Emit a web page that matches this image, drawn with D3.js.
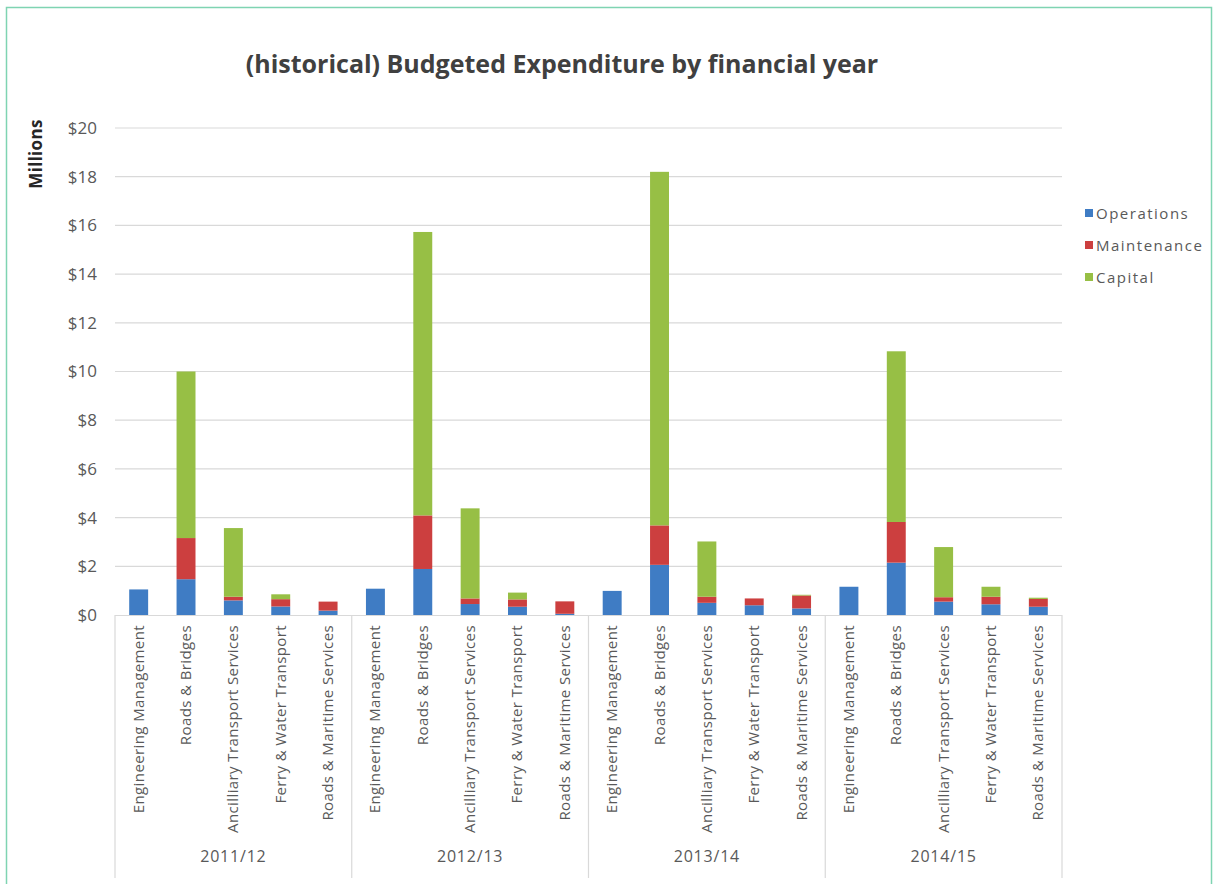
<!DOCTYPE html>
<html>
<head>
<meta charset="utf-8">
<script src="https://cdn.jsdelivr.net/npm/d3@7/dist/d3.min.js"></script>
<style>
  html, body { margin: 0; padding: 0; background: #fff; }
  svg { display: block; }
  text { font-family: "Open Sans", Lato, sans-serif; }
</style>
</head>
<body>
<svg id="chart" width="1214" height="884"></svg>
<script>
// Financial years and service categories
const years = ["2011/12", "2012/13", "2013/14", "2014/15"];
const services = [
  "Engineering Management",
  "Roads & Bridges",
  "Ancilliary Transport Services",
  "Ferry & Water Transport",
  "Roads & Maritime Services"
];
const seriesNames = ["Operations", "Maintenance", "Capital"];
const seriesColors = ["#3F7CC4", "#CC3F3F", "#97BF45"];

// Values in $ millions, one row per year, columns follow `services`
const operations = [
  [1.05, 1.47, 0.60, 0.35, 0.18],
  [1.08, 1.89, 0.45, 0.34, 0.05],
  [0.99, 2.06, 0.50, 0.40, 0.27],
  [1.16, 2.15, 0.55, 0.44, 0.34]
];
const maintenance = [
  [0.00, 1.69, 0.15, 0.30, 0.37],
  [0.00, 2.20, 0.23, 0.30, 0.51],
  [0.00, 1.62, 0.25, 0.28, 0.53],
  [0.00, 1.67, 0.18, 0.31, 0.32]
];
const capital = [
  [0.00, 6.84, 2.82, 0.20, 0.00],
  [0.00, 11.64, 3.70, 0.28, 0.00],
  [0.00, 14.52, 2.27, 0.00, 0.03],
  [0.00, 7.01, 2.06, 0.41, 0.05]
];
const yTicks = [0, 2, 4, 6, 8, 10, 12, 14, 16, 18, 20];

// Flatten into one row per (year, service)
const rows = [];
years.forEach((yr, i) => {
  services.forEach((svc, j) => {
    rows.push({
      key: yr + "|" + svc,
      year: yr,
      service: svc,
      Operations: operations[i][j],
      Maintenance: maintenance[i][j],
      Capital: capital[i][j]
    });
  });
});

const svg = d3.select("#chart");

// Outer frame
svg.append("rect")
  .attr("x", 6.5).attr("y", 7.5)
  .attr("width", 1205).attr("height", 890)
  .attr("fill", "#fff")
  .attr("stroke", "#7FD4B2").attr("stroke-width", 1.5);

const plot = { left: 115, right: 1062, top: 128, bottom: 615 };

const x = d3.scaleBand()
  .domain(rows.map(d => d.key))
  .range([plot.left, plot.right])
  .paddingInner(0.6)
  .paddingOuter(0.3);

const y = d3.scaleLinear()
  .domain([0, 20])
  .range([plot.bottom, plot.top]);

// Horizontal gridlines
svg.append("g")
  .selectAll("line")
  .data(yTicks.filter(t => t > 0))
  .join("line")
  .attr("x1", plot.left).attr("x2", plot.right)
  .attr("y1", d => y(d)).attr("y2", d => y(d))
  .attr("stroke", "#D9D9D9").attr("stroke-width", 1.2);

// Y axis labels
const yAxis = d3.axisLeft(y)
  .tickValues(yTicks)
  .tickFormat(d => "$" + d)
  .tickSize(0)
  .tickPadding(18);
const yg = svg.append("g")
  .attr("transform", `translate(${plot.left},0)`)
  .call(yAxis);
yg.select(".domain").remove();
yg.selectAll("text")
  .attr("fill", "#595959")
  .style("font-size", "17px");

// Y axis title
svg.append("text")
  .attr("transform", `translate(42,154) rotate(-90)`)
  .attr("text-anchor", "middle")
  .attr("fill", "#262626")
  .style("font-size", "17px")
  .style("font-weight", "bold")
  .style("letter-spacing", "0.3px")
  .text("Millions");

// Stacked bars
const stacked = d3.stack().keys(seriesNames)(rows);

svg.append("g")
  .selectAll("g")
  .data(stacked)
  .join("g")
  .attr("fill", (d, i) => seriesColors[i])
  .selectAll("rect")
  .data(d => d)
  .join("rect")
  .attr("x", d => x(d.data.key))
  .attr("width", x.bandwidth())
  .attr("y", d => y(d[1]))
  .attr("height", d => Math.max(0, y(d[0]) - y(d[1])));

// Category axis baseline
svg.append("line")
  .attr("x1", plot.left).attr("x2", plot.right)
  .attr("y1", plot.bottom + 0.5).attr("y2", plot.bottom + 0.5)
  .attr("stroke", "#D9D9D9").attr("stroke-width", 1.2);

// Group dividers for the multi-level category axis
const stepW = (plot.right - plot.left) / years.length;
const edges = d3.range(years.length + 1).map(i => plot.left + i * stepW);
svg.append("g")
  .selectAll("line")
  .data(edges)
  .join("line")
  .attr("x1", d => d).attr("x2", d => d)
  .attr("y1", plot.bottom).attr("y2", 878)
  .attr("stroke", "#D9D9D9").attr("stroke-width", 1.2);

// Service labels (rotated)
svg.append("g")
  .selectAll("text")
  .data(rows)
  .join("text")
  .attr("transform", d => `translate(${x(d.key) + x.bandwidth() / 2 + 5},${plot.bottom + 10}) rotate(-90)`)
  .attr("text-anchor", "end")
  .attr("fill", "#595959")
  .style("font-size", "15px")
  .style("letter-spacing", "0.4px")
  .text(d => d.service);

// Year labels
svg.append("g")
  .selectAll("text")
  .data(years)
  .join("text")
  .attr("x", (d, i) => plot.left + (i + 0.5) * stepW)
  .attr("y", 862)
  .attr("text-anchor", "middle")
  .attr("fill", "#595959")
  .style("font-size", "16px")
  .style("letter-spacing", "0.8px")
  .text(d => d);

// Title
svg.append("text")
  .attr("x", 562).attr("y", 73)
  .attr("text-anchor", "middle")
  .attr("fill", "#404040")
  .style("font-size", "25px")
  .style("font-weight", "bold")
  .text("(historical) Budgeted Expenditure by financial year");

// Legend
const legend = svg.append("g")
  .selectAll("g")
  .data(seriesNames)
  .join("g")
  .attr("transform", (d, i) => `translate(1085,${213 + i * 32})`);
legend.append("rect")
  .attr("x", 0).attr("y", -4)
  .attr("width", 8).attr("height", 8)
  .attr("fill", (d, i) => seriesColors[i]);
legend.append("text")
  .attr("x", 11).attr("y", 5.5)
  .attr("fill", "#595959")
  .style("font-size", "15px")
  .style("letter-spacing", "1.5px")
  .text(d => d);
</script>
</body>
</html>
